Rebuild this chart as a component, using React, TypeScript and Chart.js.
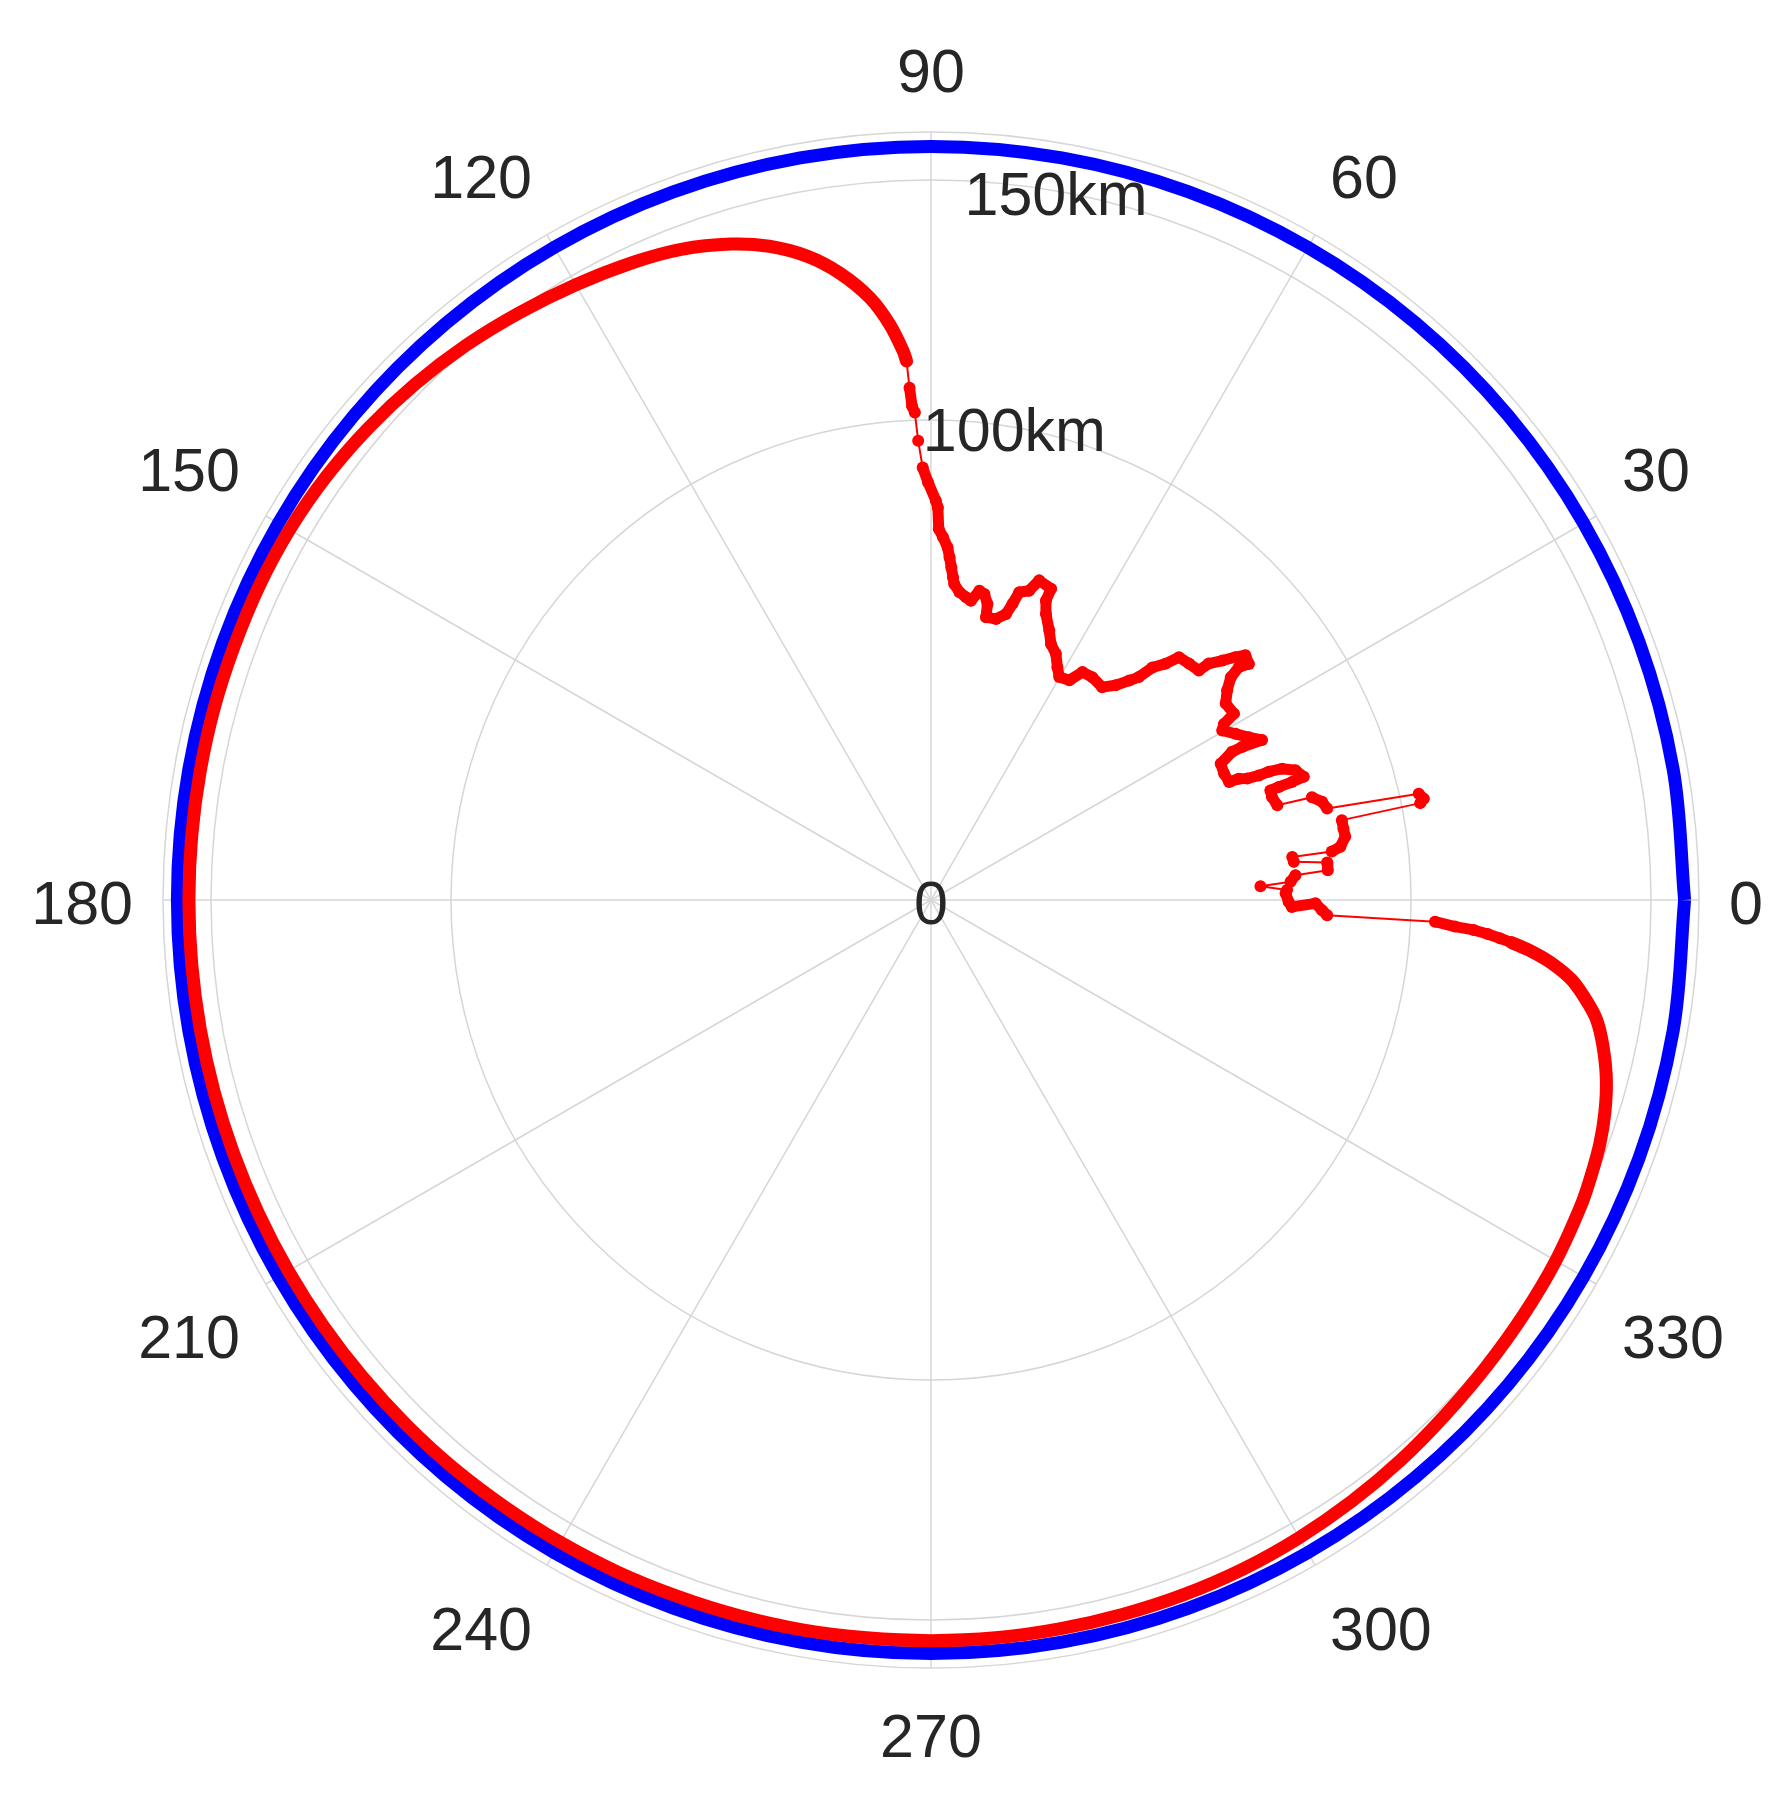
import React, { useEffect, useRef } from 'react';
import { Chart, registerables } from 'chart.js';

Chart.register(...registerables);

// ---- axes ----
const thetaTickDegrees = [0, 30, 60, 90, 120, 150, 180, 210, 240, 270, 300, 330];
const thetaTickLabels = ['0', '30', '60', '90', '120', '150', '180', '210', '240', '270', '300', '330'];
const radialGridValues = [0, 100, 150, 160];
const radialLabelValues = [0, 100, 150];
const radialLabelTexts = ['0', '100km', '150km'];
const radialLabelAngleDeg = 80;
const radialMaxKm = 160;

// ---- blue series: constant-range circle ----
const blueAnglesDeg = [0, 10, 20, 30, 40, 50, 60, 70, 80, 90, 100, 110, 120, 130, 140, 150, 160, 170, 180,
  190, 200, 210, 220, 230, 240, 250, 260, 270, 280, 290, 300, 310, 320, 330, 340, 350, 360];
const blueRadiusKm = 157;

// ---- red series, smooth outer part (path order) ----
const redBandDeg = [355.8, 355.1, 354.2, 352.9, 351.3, 349.8, 347.7, 345.1, 342.5, 340, 337.5, 335,
  330, 325, 320, 315, 310, 305, 300, 295, 290, 285, 280, 275, 270, 265, 260, 255, 250, 245, 240, 235,
  230, 225, 220, 215, 210, 205, 200, 195, 190, 185, 180, 175, 170, 165, 160, 155, 150, 145, 140, 135,
  130, 125, 120, 115, 111, 107, 103.9, 100.9, 98.3, 95.8, 94.1, 92.9, 92.6];
const redBandKm = [121.3, 125.6, 129.9, 134.5, 138.1, 140.9, 143.3, 145.6, 147.2, 148.3, 149.0, 149.6,
  150.3, 150.7, 151.1, 151.6, 152.3, 152.9, 153.4, 153.8, 154.0, 154.1, 154.2, 154.3, 154.3, 154.3, 154.4,
  154.4, 154.4, 154.5, 154.5, 154.5, 154.6, 154.6, 154.6, 154.6, 154.6, 154.6, 154.6, 154.6, 154.6, 154.6,
  154.6, 154.6, 154.6, 154.6, 154.5, 154.5, 154.3, 153.8, 153.0, 152.0, 150.8, 149.4, 148.0, 146.6, 145.2,
  142.9, 140.3, 136.6, 132.0, 126.1, 120.2, 114.5, 112.4];

// ---- red series, inner jagged track (path order) ----
const redTrackDeg = [92.6, 92.4, 92.2, 91.9, 91.6, 91.1, 90.4, 89.3, 89.0, 88.8, 88.1, 87.3, 86.9, 86.5,
  86.1, 85.8, 84.7, 83.4, 82.4, 81.1, 80.1, 79.2, 79.0, 77.0, 75.3, 74.6, 74.0, 72.4, 71.3, 68.9, 69.0,
  68.1, 66.3, 64.9, 63.1, 61.5, 60.1, 57.8, 56.4, 54.1, 51.2, 49.3, 47.9, 47.0, 46.4, 45.2, 44.4, 42.5,
  40.6, 40.4, 39.4, 38.6, 37.9, 36.6, 37.1, 36.6, 35.3, 33.7, 31.6, 31.0, 30.2, 28.6, 27.1, 25.8, 26.2,
  26.2, 25.2, 23.3, 21.6, 21.5, 21.0, 20.8, 20.8, 20.5, 19.6, 18.3, 18.1, 18.0, 17.9, 16.8, 15.3, 15.1,
  14.1, 13.0, 12.3, 11.6, 11.2, 11.0, 9.8, 8.7, 7.4, 6.9, 6.8, 6.0, 5.4, 4.3, 3.9, 2.9, 2.4, 1.6, 1.1,
  -0.3, -1.1, -0.5, -1.5, -2.2, -2.46, -2.9, -3.16, -3.49, -3.85, -4.2];
const redTrackKm = [112.4, 106.8, 103.0, 101.6, 95.7, 90.1, 87.0, 83.2, 81.8, 77.3, 75.6, 73.5, 71.5, 69.4,
  67.4, 66.0, 64.4, 63.5, 62.9, 65.2, 64.7, 62.8, 60.0, 60.1, 61.6, 64.0, 66.7, 67.6, 70.3, 69.5, 66.8,
  64.2, 61.3, 58.9, 57.5, 55.2, 53.6, 54.1, 57.0, 57.3, 56.9, 59.0, 61.6, 63.5, 66.9, 69.4, 72.3, 72.9,
  73.5, 76.0, 78.6, 81.1, 83.0, 82.5, 80.4, 77.8, 75.6, 73.8, 74.1, 71.2, 70.2, 72.3, 74.4, 76.6, 72.2,
  69.9, 66.7, 66.5, 66.8, 68.9, 70.6, 73.1, 75.3, 78.1, 80.6, 81.8, 79.1, 76.2, 74.3, 74.2, 74.8, 82.2,
  84.0, 84.7, 104.0, 104.8, 103.9, 87.2, 87.2, 87.3, 86.0, 84.1, 75.8, 76.0, 82.9, 82.9, 76.1, 75.0, 68.7,
  74.2, 73.9, 74.5, 75.2, 80.1, 81.5, 82.6, 105.1, 109.3, 113.2, 116.2, 118.8, 121.3];

// ---- styles ----
const RED = '#ff0000';
const BLUE = '#0000ff';
const GRID = '#d6d6d6';
const TEXT = '#262626';
const FONT_SIZE = 61;
const FONT = `${FONT_SIZE}px "Liberation Sans", Arial, Helvetica, sans-serif`;
const LABEL_PAD = 30;
const ASCENT = 0.97 * FONT_SIZE;
const DESCENT = 0.172 * FONT_SIZE;

const toXY = (deg: number, km: number) => {
  const a = (deg * Math.PI) / 180;
  return { x: km * Math.cos(a), y: km * Math.sin(a) };
};

const signOf = (v: number) => (Math.abs(v) < 1e-6 ? 0 : Math.sign(v));

const polarLabels = {
  id: 'polarLabels',
  afterDraw(chart: any) {
    const r = chart.scales.r;
    const ctx = chart.ctx as CanvasRenderingContext2D;
    const cx = r.xCenter;
    const cy = r.yCenter;
    const R = r.drawingArea;
    ctx.save();
    ctx.font = FONT;
    ctx.fillStyle = TEXT;
    ctx.textAlign = 'center';
    ctx.textBaseline = 'alphabetic';
    thetaTickDegrees.forEach((deg, i) => {
      const text = thetaTickLabels[i];
      const w = ctx.measureText(text).width;
      const a = (deg * Math.PI) / 180;
      const c = Math.cos(a);
      const s = Math.sin(a);
      const ax = cx + c * (R + LABEL_PAD);
      const ay = cy - s * (R + LABEL_PAD);
      const sx = signOf(c);
      const sy = signOf(s);
      const x = ax + (sx * w) / 2;
      const baseline = sy > 0 ? ay - DESCENT : sy < 0 ? ay + ASCENT : ay + (ASCENT - DESCENT) / 2;
      ctx.fillText(text, x, baseline);
    });
    const la = (radialLabelAngleDeg * Math.PI) / 180;
    const digitHalf = 0.358 * FONT_SIZE;
    radialLabelValues.forEach((v, i) => {
      const d = r.getDistanceFromCenterForValue(v);
      ctx.fillText(radialLabelTexts[i], cx + Math.cos(la) * d, cy - Math.sin(la) * d + digitHalf + 2);
    });
    ctx.restore();
  },
};

export default function App() {
  const ref = useRef<HTMLCanvasElement>(null);

  useEffect(() => {
    const canvas = ref.current;
    if (!canvas) return;
    const trackPts = redTrackDeg.map((d, i) => toXY(d, redTrackKm[i]));
    const bandPts = redBandDeg.map((d, i) => toXY(d, redBandKm[i]));
    const bluePts = blueAnglesDeg.map((d) => toXY(d, blueRadiusKm));

    const chart = new Chart(canvas, {
      type: 'scatter',
      data: {
        labels: thetaTickLabels,
        datasets: [
          {
            label: 'track',
            data: trackPts,
            showLine: true,
            borderColor: RED,
            backgroundColor: RED,
            pointBackgroundColor: RED,
            pointBorderWidth: 0,
            pointRadius: 6,
            pointHoverRadius: 6,
            borderWidth: 2,
            borderCapStyle: 'round',
            borderJoinStyle: 'round',
            segment: {
              borderWidth: (c: any) => {
                const dx = c.p1.x - c.p0.x;
                const dy = c.p1.y - c.p0.y;
                return Math.sqrt(dx * dx + dy * dy) > 24 ? 2 : 11;
              },
            },
          } as any,
          {
            label: 'band',
            data: bandPts,
            showLine: true,
            borderColor: RED,
            backgroundColor: RED,
            borderWidth: 13,
            pointRadius: 0,
            pointHoverRadius: 0,
            tension: 0.3,
            borderCapStyle: 'round',
            borderJoinStyle: 'round',
          } as any,
          {
            label: 'range',
            data: bluePts,
            showLine: true,
            borderColor: BLUE,
            backgroundColor: BLUE,
            borderWidth: 13,
            pointRadius: 0,
            pointHoverRadius: 0,
            tension: 0.35,
          } as any,
        ],
      },
      options: {
        animation: false,
        responsive: false,
        devicePixelRatio: 1,
        events: [],
        layout: { padding: { left: 155, top: 124, right: 84, bottom: 125 } },
        plugins: { legend: { display: false }, tooltip: { enabled: false } },
        scales: {
          x: { type: 'linear', min: -radialMaxKm, max: radialMaxKm, display: false },
          y: { type: 'linear', min: -radialMaxKm, max: radialMaxKm, display: false },
          r: {
            type: 'radialLinear',
            min: 0,
            max: radialMaxKm,
            startAngle: 90,
            labels: thetaTickLabels,
            angleLines: { display: true, color: GRID, lineWidth: 1.5 },
            grid: { display: true, circular: true, color: GRID, lineWidth: 1.5 },
            pointLabels: { display: false },
            ticks: { display: false },
            afterBuildTicks: (s: any) => {
              s.ticks = radialGridValues.map((v) => ({ value: v }));
            },
          } as any,
        },
      } as any,
      plugins: [polarLabels],
    });
    return () => chart.destroy();
  }, []);

  return (
    <div style={{ width: 1775, height: 1785 }}>
      <canvas ref={ref} width={1775} height={1785} style={{ display: 'block', width: 1775, height: 1785 }} />
    </div>
  );
}
